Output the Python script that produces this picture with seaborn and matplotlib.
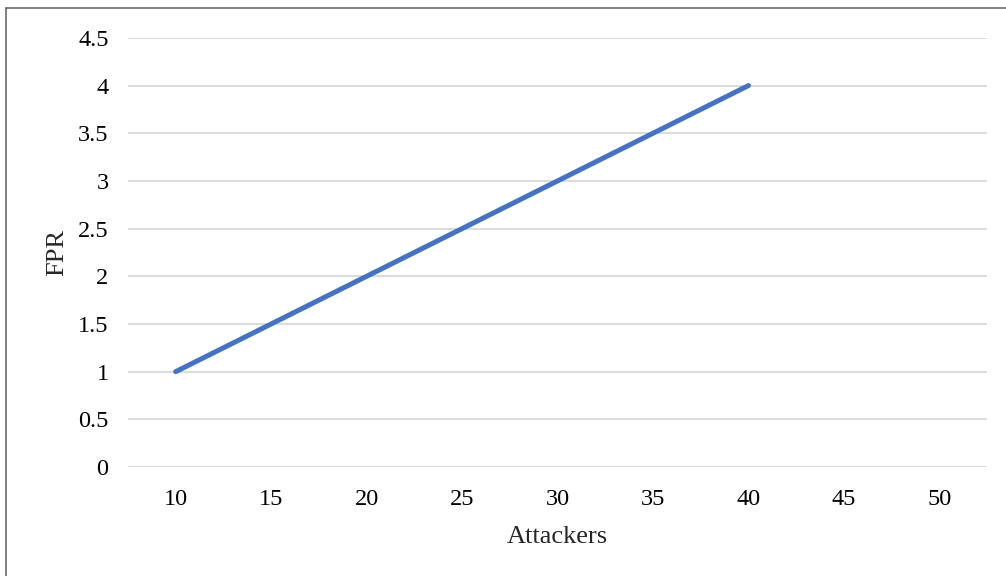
import matplotlib
matplotlib.use("Agg")
import matplotlib.pyplot as plt
import seaborn as sns
import pandas as pd
from matplotlib.lines import Line2D

# Attackers on a category axis; FPR recorded for the first seven levels
attackers = ["10", "15", "20", "25", "30", "35", "40", "45", "50"]
fpr_attackers = ["10", "15", "20", "25", "30", "35", "40"]
fpr_values = [1.0, 1.5, 2.0, 2.5, 3.0, 3.5, 4.0]
y_ticks = [0, 0.5, 1, 1.5, 2, 2.5, 3, 3.5, 4, 4.5]
y_tick_labels = ["0", "0.5", "1", "1.5", "2", "2.5", "3", "3.5", "4", "4.5"]

sns.set_theme(style="white")
plt.rcParams["font.family"] = ["Liberation Serif", "DejaVu Serif"]

df = pd.DataFrame({
    "pos": [attackers.index(a) for a in fpr_attackers],
    "FPR": fpr_values,
})

fig = plt.figure(figsize=(10.06, 5.76), dpi=100)
ax = fig.add_axes([0.1272, 0.1892, 0.854, 0.745])

ax.yaxis.grid(True, color="#d9d9d9", linewidth=1.3)
ax.set_axisbelow(True)

sns.lineplot(data=df, x="pos", y="FPR", ax=ax, color="#4472C4",
             linewidth=3.6, solid_capstyle="round")

ax.set_xlim(-0.5, len(attackers) - 0.5)
ax.set_ylim(0, 4.5)
ax.set_xticks(range(len(attackers)))
ax.set_xticklabels(attackers)
ax.set_yticks(y_ticks)
ax.set_yticklabels(y_tick_labels)
ax.tick_params(axis="both", length=0, labelsize=17.5, colors="#000000")
ax.tick_params(axis="y", pad=14)
ax.tick_params(axis="x", pad=15.5)

for side in ["top", "right", "left", "bottom"]:
    ax.spines[side].set_visible(False)

ax.set_xlabel("Attackers", fontsize=19, labelpad=12)
ax.set_ylabel("FPR", fontsize=19, labelpad=7)

# outer frame on the left and top edges
fig.add_artist(Line2D([0.0055, 0.0055], [0.0, 1 - 8 / 576], transform=fig.transFigure,
                      color="#6b6b6b", linewidth=1.2))
fig.add_artist(Line2D([0.0055, 1.0], [1 - 8 / 576, 1 - 8 / 576], transform=fig.transFigure,
                      color="#6b6b6b", linewidth=1.2))

fig.savefig("out.png", dpi=100)
